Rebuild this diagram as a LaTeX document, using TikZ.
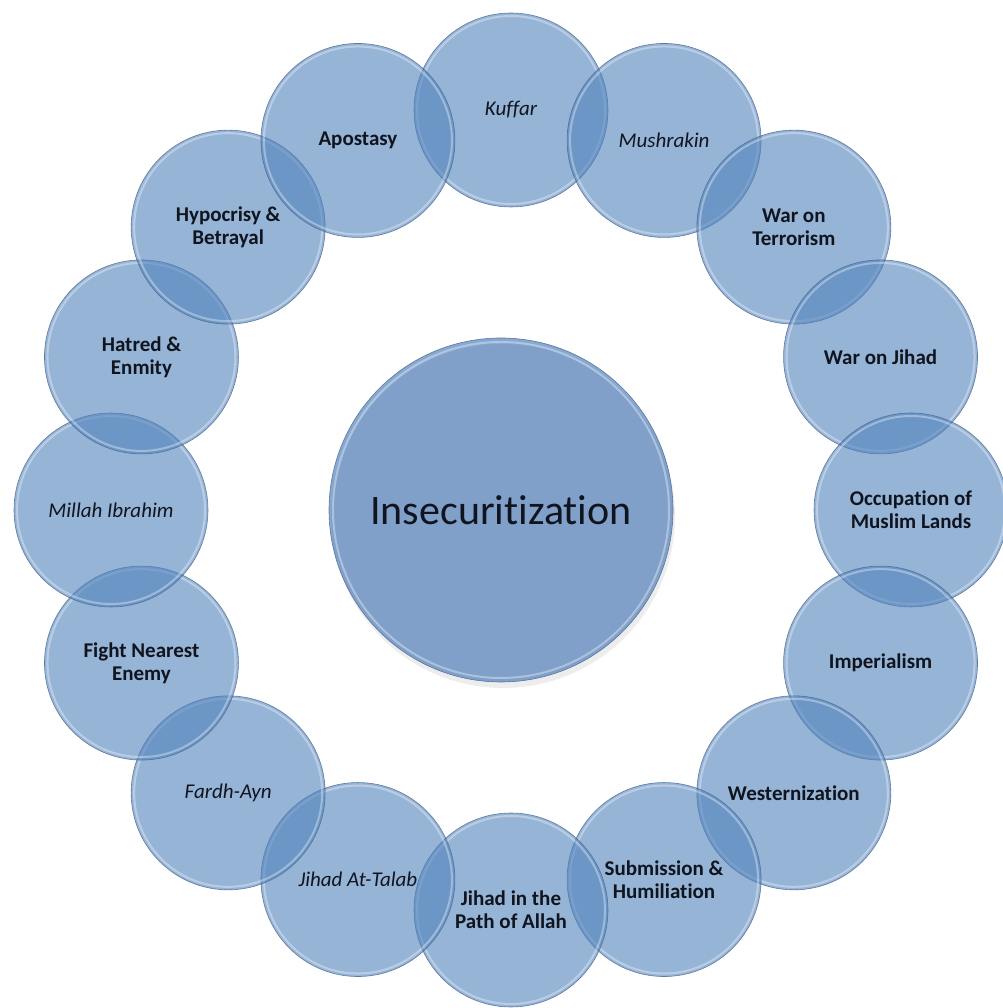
\documentclass[tikz,border=0pt]{standalone}
\usepackage{fontspec}
\setmainfont{Carlito}[RawFeature=-liga]
\usetikzlibrary{calc}
\definecolor{ballc}{RGB}{80,130,187}
\definecolor{ballc2}{RGB}{55,110,177}
\definecolor{rimc}{RGB}{70,100,145}
\definecolor{txtc}{RGB}{15,20,30}
\tikzset{
  ball/.style={circle, minimum size=194pt, inner sep=0pt, draw=rimc, line width=0.6pt,
    fill=ballc, fill opacity=0.6, draw opacity=0.8, text opacity=1, text=txtc,
    align=center, font=\fontsize{21}{23}\selectfont},
  bl/.style={ball, font=\fontsize{21}{23}\selectfont\bfseries},
  it/.style={ball, font=\fontsize{21}{23}\selectfont\itshape},
  hub/.style={circle, minimum size=344pt, inner sep=0pt, draw=rimc, line width=0.6pt,
    fill=ballc2, fill opacity=0.6, draw opacity=0.8, text opacity=1, text=txtc,
    font=\fontsize{42}{48}\selectfont},
  glow/.style={draw=white, line width=2pt, draw opacity=0.35, fill=none}
}
\begin{document}
\begin{tikzpicture}[x=1pt,y=1pt]
\useasboundingbox (0,0) rectangle (1002,1008);
\coordinate (ring) at (511,498);
% shadow of hub
\fill[gray!40, opacity=0.35] (503,492) circle (172pt);
\node[hub] (hub) at (501,498) {Insecuritization};
\draw[glow] (hub.center) circle (168pt);
\foreach \ang/\nm/\sty/\txt in {
  90/kuffar/it/{Kuffar},
  67.5/mush/it/{Mushrakin},
  45/wot/bl/{War on\\Terrorism},
  22.5/woj/bl/{War on Jihad},
  0/occ/bl/{Occupation of\\Muslim Lands},
  -22.5/imp/bl/{Imperialism},
  -45/west/bl/{Westernization},
  -67.5/sub/bl/{Submission \&\\Humiliation},
  -90/path/bl/{Jihad in the\\Path of Allah},
  -112.5/talab/it/{Jihad At-Talab},
  -135/fardh/it/{Fardh-Ayn},
  -157.5/fight/bl/{Fight Nearest\\Enemy},
  180/millah/it/{Millah Ibrahim},
  157.5/hatred/bl/{Hatred \&\\Enmity},
  135/hyp/bl/{Hypocrisy \&\\Betrayal},
  112.5/apost/bl/{Apostasy}}
{
  \node[\sty] (\nm) at ($(ring)+(\ang:400pt)$) {\txt};
  \draw[glow] (\nm.center) circle (94pt);
}
\end{tikzpicture}
\end{document}
